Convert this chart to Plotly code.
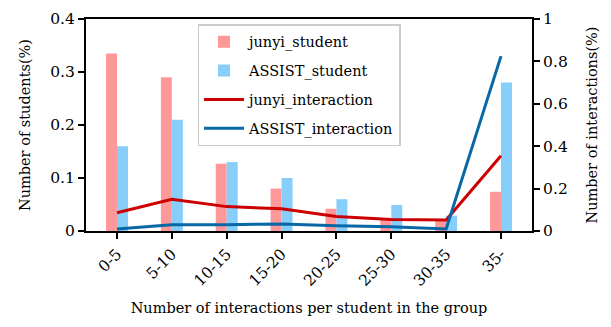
import plotly.graph_objects as go

groups = ["0-5", "5-10", "10-15", "15-20", "20-25", "25-30", "30-35", "35-"]

# share of students per group (left axis)
junyi_student = [0.335, 0.290, 0.127, 0.080, 0.042, 0.024, 0.022, 0.074]
assist_student = [0.160, 0.210, 0.130, 0.100, 0.060, 0.049, 0.029, 0.280]

# share of interactions per group (right axis)
junyi_interaction = [0.086, 0.150, 0.115, 0.105, 0.068, 0.054, 0.052, 0.355]
assist_interaction = [0.010, 0.030, 0.030, 0.033, 0.025, 0.020, 0.010, 0.825]

left_ticks = [0, 0.1, 0.2, 0.3, 0.4]
left_ticktext = ["0", "0.1", "0.2", "0.3", "0.4"]
right_ticks = [0, 0.2, 0.4, 0.6, 0.8, 1.0]
right_ticktext = ["0", "0.2", "0.4", "0.6", "0.8", "1"]

FONT = "DejaVu Serif"
FS = 14.5
TICK_FS = 15.5
x = list(range(len(groups)))

fig = go.Figure()
fig.add_trace(go.Bar(x=x, y=junyi_student, name="junyi_student",
                     marker=dict(color="#FF9999", line=dict(width=0)),
                     width=0.2, offset=-0.2, legendgroup="a"))
fig.add_trace(go.Bar(x=x, y=assist_student, name="ASSIST_student",
                     marker=dict(color="#87CEFA", line=dict(width=0)),
                     width=0.2, offset=0.0, legendgroup="b"))
fig.add_trace(go.Scatter(x=x, y=junyi_interaction, name="junyi_interaction",
                         mode="lines", line=dict(color="#CC0000", width=3),
                         yaxis="y2", legendgroup="c"))
fig.add_trace(go.Scatter(x=x, y=assist_interaction, name="ASSIST_interaction",
                         mode="lines", line=dict(color="#0868A6", width=3),
                         yaxis="y2", legendgroup="d"))

axis_common = dict(showline=True, linecolor="black", linewidth=2,
                   ticks="outside", ticklen=6, tickwidth=1.5, tickcolor="black",
                   showgrid=False, zeroline=False,
                   tickfont=dict(family=FONT, size=TICK_FS, color="black"))

fig.update_layout(
    width=611, height=327,
    margin=dict(l=86, r=79, t=10, b=96),
    paper_bgcolor="white", plot_bgcolor="white",
    font=dict(family=FONT, size=FS, color="black"),
    showlegend=True,
    legend=dict(x=0.25, y=0.975, xanchor="left", yanchor="top",
                bgcolor="white", bordercolor="#CCCCCC", borderwidth=1.5,
                font=dict(family=FONT, size=FS, color="black"),
                tracegroupgap=7, itemwidth=40),
    xaxis=dict(**axis_common, range=[-0.565, 7.565], tickmode="array",
               tickvals=x, ticktext=groups, tickangle=-45, mirror=True,
               title=dict(text="Number of interactions per student in the group",
                          font=dict(family=FONT, size=FS), standoff=14)),
    yaxis=dict(**axis_common, range=[0, 0.4], tickmode="array",
               tickvals=left_ticks, ticktext=left_ticktext,
               title=dict(text="Number of students(%)",
                          font=dict(family=FONT, size=FS), standoff=16)),
    yaxis2=dict(**axis_common, range=[0, 1.0], overlaying="y", side="right",
                tickmode="array", tickvals=right_ticks, ticktext=right_ticktext,
                title=dict(text="Number of interactions(%)",
                           font=dict(family=FONT, size=FS), standoff=20)),
)

fig.write_html("out.html")
